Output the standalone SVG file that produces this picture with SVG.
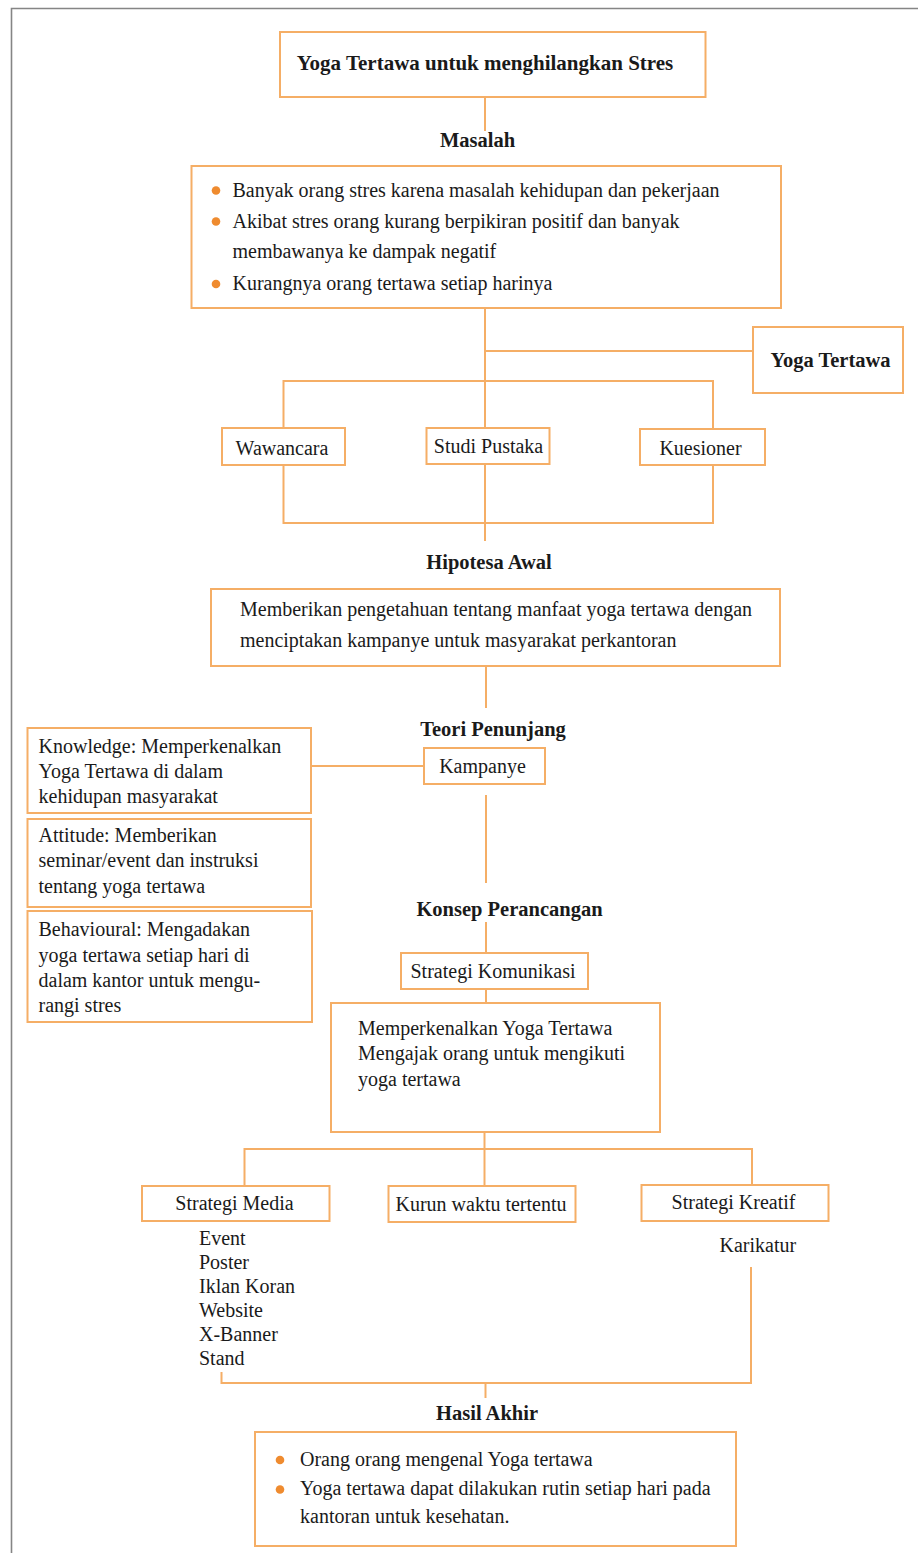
<svg xmlns="http://www.w3.org/2000/svg" width="918" height="1553" viewBox="0 0 918 1553">
<style>
.box{fill:#fff;stroke:#F5AE66;stroke-width:2}
.ln{fill:none;stroke:#F5AE66;stroke-width:2}
.t{font-family:"Liberation Serif","Times New Roman",serif;font-size:20px;fill:#1a1a1a}
.b{font-family:"Liberation Serif","Times New Roman",serif;font-size:20.5px;font-weight:bold;fill:#1a1a1a}
.c{text-anchor:middle}
.dot{fill:#EF8B2F}
</style>
<rect width="918" height="1553" fill="#fff"/>
<path d="M11.5,1553 V8.5 H918" fill="none" stroke="#858585" stroke-width="1.6"/>
<g id="connectors">
<path class="ln" d="M485,97 V131"/>
<path class="ln" d="M485,308 V428"/>
<path class="ln" d="M485,351 H753"/>
<path class="ln" d="M283.5,428 V381 H713 V429"/>
<path class="ln" d="M283.5,465 V523 H713 V465"/>
<path class="ln" d="M485,464 V541"/>
<path class="ln" d="M486,666 V708"/>
<path class="ln" d="M311,766 H424"/>
<path class="ln" d="M486,795 V883"/>
<path class="ln" d="M486,922 V953"/>
<path class="ln" d="M486,989 V1003"/>
<path class="ln" d="M484.5,1132 V1186"/>
<path class="ln" d="M244.5,1186 V1149 H752 V1185"/>
<path class="ln" d="M751,1267 V1383 H221.5 V1372"/>
<path class="ln" d="M485.5,1383 V1398"/>
</g>
<g id="title"><rect class="box" x="280" y="32" width="425.5" height="65"/><text class="b c" x="485" y="70" style="font-size:21px">Yoga Tertawa untuk menghilangkan Stres</text></g>
<g id="masalah-label"><text class="b c" x="477.5" y="147">Masalah</text></g>
<g id="masalah">
<rect class="box" x="191.5" y="166" width="589.5" height="142"/>
<circle class="dot" cx="216" cy="190.5" r="4.3"/>
<circle class="dot" cx="216" cy="221.5" r="4.3"/>
<circle class="dot" cx="216" cy="284" r="4.3"/>
<text class="t" x="232.5" y="197">Banyak orang stres karena masalah kehidupan dan pekerjaan</text>
<text class="t" x="232.5" y="228">Akibat stres orang kurang berpikiran positif dan banyak</text>
<text class="t" x="232.5" y="258">membawanya ke dampak negatif</text>
<text class="t" x="232.5" y="290">Kurangnya orang tertawa setiap harinya</text>
</g>
<g id="yoga-tertawa"><rect class="box" x="753" y="327" width="150" height="66"/><text class="b c" x="830.5" y="366.5">Yoga Tertawa</text></g>
<g id="wawancara"><rect class="box" x="222" y="428" width="123" height="37"/><text class="t c" x="282" y="455">Wawancara</text></g>
<g id="studi-pustaka"><rect class="box" x="426.5" y="428" width="123" height="36"/><text class="t c" x="488.5" y="452.5">Studi Pustaka</text></g>
<g id="kuesioner"><rect class="box" x="640" y="429" width="125" height="36"/><text class="t c" x="700.5" y="455">Kuesioner</text></g>
<g id="hipotesa-label"><text class="b c" x="489" y="569">Hipotesa Awal</text></g>
<g id="hipotesa">
<rect class="box" x="211" y="589" width="569" height="77"/>
<text class="t" x="240" y="616">Memberikan pengetahuan tentang manfaat yoga tertawa dengan</text>
<text class="t" x="240" y="646.5">menciptakan kampanye untuk masyarakat perkantoran</text>
</g>
<g id="teori-label"><text class="b c" x="493" y="735.5">Teori Penunjang</text></g>
<g id="kampanye"><rect class="box" x="424" y="748" width="121" height="36"/><text class="t c" x="482.5" y="773">Kampanye</text></g>
<g id="knowledge">
<rect class="box" x="27.5" y="728" width="283.5" height="85"/>
<text class="t" x="38.5" y="753">Knowledge: Memperkenalkan</text>
<text class="t" x="38.5" y="778">Yoga Tertawa di dalam</text>
<text class="t" x="38.5" y="803">kehidupan masyarakat</text>
</g>
<g id="attitude">
<rect class="box" x="27.5" y="819" width="283.5" height="88"/>
<text class="t" x="38.5" y="841.5">Attitude: Memberikan</text>
<text class="t" x="38.5" y="866.5">seminar/event dan instruksi</text>
<text class="t" x="38.5" y="892.5">tentang yoga tertawa</text>
</g>
<g id="behavioural">
<rect class="box" x="27.5" y="911" width="284.5" height="111"/>
<text class="t" x="38.5" y="936">Behavioural: Mengadakan</text>
<text class="t" x="38.5" y="961.5">yoga tertawa setiap hari di</text>
<text class="t" x="38.5" y="986.5">dalam kantor untuk mengu-</text>
<text class="t" x="38.5" y="1011.5">rangi stres</text>
</g>
<g id="konsep-label"><text class="b c" x="509.5" y="916">Konsep Perancangan</text></g>
<g id="strategi-komunikasi"><rect class="box" x="401" y="953" width="187" height="36"/><text class="t c" x="493" y="978">Strategi Komunikasi</text></g>
<g id="memperkenalkan">
<rect class="box" x="331" y="1003" width="329" height="129"/>
<text class="t" x="358" y="1035">Memperkenalkan Yoga Tertawa</text>
<text class="t" x="358" y="1060">Mengajak orang untuk mengikuti</text>
<text class="t" x="358" y="1085.5">yoga tertawa</text>
</g>
<g id="strategi-media">
<rect class="box" x="142" y="1186" width="187.5" height="35"/><text class="t c" x="234.5" y="1210">Strategi Media</text>
<text class="t" x="199" y="1245">Event</text>
<text class="t" x="199" y="1269">Poster</text>
<text class="t" x="199" y="1293">Iklan Koran</text>
<text class="t" x="199" y="1317">Website</text>
<text class="t" x="199" y="1341">X-Banner</text>
<text class="t" x="199" y="1365">Stand</text>
</g>
<g id="kurun-waktu"><rect class="box" x="388.5" y="1186" width="187" height="36"/><text class="t c" x="481" y="1210.5">Kurun waktu tertentu</text></g>
<g id="strategi-kreatif">
<rect class="box" x="641.5" y="1185" width="187" height="36"/><text class="t c" x="733.5" y="1209">Strategi Kreatif</text>
<text class="t" x="719.5" y="1251.5">Karikatur</text>
</g>
<g id="hasil-label"><text class="b c" x="487" y="1420">Hasil Akhir</text></g>
<g id="hasil">
<rect class="box" x="255" y="1432" width="481" height="114"/>
<circle class="dot" cx="280" cy="1460" r="4.3"/>
<circle class="dot" cx="280" cy="1489.5" r="4.3"/>
<text class="t" x="300" y="1466">Orang orang mengenal Yoga tertawa</text>
<text class="t" x="300" y="1495">Yoga tertawa dapat dilakukan rutin setiap hari pada</text>
<text class="t" x="300" y="1522.5">kantoran untuk kesehatan.</text>
</g>
</svg>
